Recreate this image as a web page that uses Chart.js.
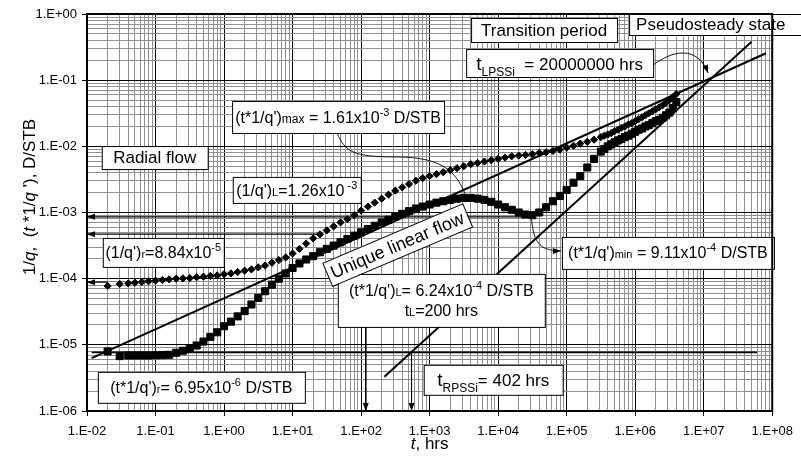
<!DOCTYPE html>
<html>
<head>
<meta charset="utf-8">
<script src="https://cdn.jsdelivr.net/npm/chart.js@4.4.0/dist/chart.umd.min.js"></script>
<style>
  html, body { margin: 0; padding: 0; background: #fff; }
  #wrap { width: 801px; height: 461px; }
</style>
</head>
<body>
<div id="wrap"><canvas id="chart" width="801" height="461"></canvas></div>
<script>
const FONT = "'Liberation Sans', Arial, Helvetica, sans-serif";

// --- DATA ---
// production time, hrs
const timeHrs = [
  0.02, 0.03,
  0.04, 0.05, 0.063, 0.079,
  0.1, 0.126, 0.158, 0.2, 0.251, 0.316, 0.398, 0.501, 0.631, 0.794,
  1, 1.26, 1.58, 2, 2.51, 3.16, 3.98, 5.01, 6.31, 7.94,
  10, 12.6, 15.8, 20, 25.1, 31.6, 39.8, 50.1, 63.1, 79.4,
  100, 126, 158, 200, 251, 316, 398, 501, 631, 794,
  1000, 1260, 1580, 2000, 2510, 3160, 3980, 5010, 6310, 7940,
  1e4, 1.26e4, 1.58e4, 2e4, 2.51e4, 3.16e4, 3.98e4, 5.01e4, 6.31e4, 7.94e4,
  1e5, 1.26e5, 1.58e5, 2e5, 2.51e5, 3.16e5, 3.55e5, 3.98e5, 4.47e5, 5.01e5, 5.62e5, 6.31e5, 7.08e5, 7.94e5, 8.91e5,
  1e6, 1.12e6, 1.26e6, 1.41e6, 1.58e6, 1.78e6, 2e6, 2.24e6, 2.51e6, 2.82e6, 3.16e6, 3.55e6, 3.98e6
];
// 1/q, D/STB (diamonds)
const invRate = [
  7.76e-5, 8.32e-5,
  8.51e-5, 8.71e-5, 8.91e-5, 9.12e-5,
  9.33e-5, 9.55e-5, 9.77e-5, 1.00e-4, 1.01e-4, 1.02e-4, 1.05e-4, 1.07e-4, 1.10e-4, 1.12e-4,
  1.17e-4, 1.20e-4, 1.26e-4, 1.32e-4, 1.38e-4, 1.48e-4, 1.58e-4, 1.74e-4, 1.91e-4, 2.09e-4,
  2.40e-4, 2.82e-4, 3.39e-4, 4.07e-4, 4.68e-4, 5.37e-4, 6.17e-4, 7.08e-4, 7.94e-4, 9.12e-4,
  1.07e-3, 1.23e-3, 1.41e-3, 1.62e-3, 1.86e-3, 2.14e-3, 2.40e-3, 2.69e-3, 3.02e-3, 3.31e-3,
  3.55e-3, 3.80e-3, 4.07e-3, 4.37e-3, 4.68e-3, 5.01e-3, 5.37e-3, 5.62e-3, 5.89e-3, 6.17e-3,
  6.46e-3, 6.76e-3, 7.08e-3, 7.24e-3, 7.41e-3, 7.59e-3, 7.94e-3, 8.13e-3, 8.51e-3, 8.91e-3,
  9.55e-3, 1.02e-2, 1.10e-2, 1.17e-2, 1.26e-2, 1.38e-2, 1.45e-2, 1.51e-2, 1.58e-2, 1.70e-2, 1.78e-2, 1.91e-2, 2.00e-2, 2.14e-2, 2.24e-2,
  2.40e-2, 2.57e-2, 2.75e-2, 2.95e-2, 3.16e-2, 3.39e-2, 3.63e-2, 3.89e-2, 4.17e-2, 4.57e-2, 5.01e-2, 5.50e-2, 6.17e-2
];
// t*(1/q)', D/STB (squares)
const derivRate = [
  7.94e-6, 6.76e-6,
  6.90e-6, 6.90e-6, 6.90e-6, 6.90e-6,
  6.95e-6, 7.00e-6, 7.08e-6, 7.59e-6, 8.13e-6, 8.91e-6, 9.77e-6, 1.12e-5, 1.32e-5, 1.55e-5,
  1.91e-5, 2.24e-5, 2.69e-5, 3.24e-5, 4.07e-5, 5.13e-5, 6.46e-5, 8.13e-5, 1.00e-4, 1.20e-4,
  1.45e-4, 1.70e-4, 1.95e-4, 2.19e-4, 2.51e-4, 2.82e-4, 3.16e-4, 3.55e-4, 3.98e-4, 4.47e-4,
  5.01e-4, 5.62e-4, 6.31e-4, 7.08e-4, 7.76e-4, 8.71e-4, 9.55e-4, 1.05e-3, 1.15e-3, 1.23e-3,
  1.32e-3, 1.41e-3, 1.48e-3, 1.55e-3, 1.62e-3, 1.66e-3, 1.66e-3, 1.62e-3, 1.55e-3, 1.45e-3,
  1.32e-3, 1.20e-3, 1.10e-3, 1.00e-3, 9.33e-4, 9.12e-4, 1.00e-3, 1.20e-3, 1.48e-3, 1.78e-3,
  2.19e-3, 2.82e-3, 3.55e-3, 4.79e-3, 6.46e-3, 8.32e-3, 9.12e-3, 1.00e-2, 1.07e-2, 1.15e-2, 1.23e-2, 1.29e-2, 1.38e-2, 1.45e-2, 1.55e-2,
  1.66e-2, 1.78e-2, 1.86e-2, 2.00e-2, 2.09e-2, 2.24e-2, 2.40e-2, 2.51e-2, 2.69e-2, 2.95e-2, 3.24e-2, 3.80e-2, 4.68e-2
];

const xTickLabels = ['1.E-02', '1.E-01', '1.E+00', '1.E+01', '1.E+02', '1.E+03', '1.E+04', '1.E+05', '1.E+06', '1.E+07', '1.E+08'];
const yTickLabels = ['1.E-06', '1.E-05', '1.E-04', '1.E-03', '1.E-02', '1.E-01', '1.E+00'];

// straight lines drawn on the plot (end points)
const linearFitT = [0.0117, 8.1e7];
const linearFitV = [6.3e-6, 0.255];
const pssFitT = [219, 5.0e7];
const pssFitV = [3.3e-6, 0.382];
const radialLevelT = [0.0117, 6.0e7];
const radialLevelV = [7.7e-6, 7.7e-6];

// arrows to the axes
const levelMarks = [8.6e-4, 4.7e-4, 8.84e-5];
const levelMarkEnds = [3.0e4, 25, 0.02];
const timeMarks = [117, 545];
const timeMarkFrom = [1.87e-5, 7.7e-6];

// --- HELPERS ---
const isDecade = v => Math.abs(Math.log10(v) - Math.round(Math.log10(v))) < 1e-6;
const logTicks = (lo, hi) => {
  const out = [];
  for (let e = lo; e < hi; e++) {
    for (let m = 1; m <= 9; m++) out.push(m * Math.pow(10, e));
  }
  out.push(Math.pow(10, hi));
  return out;
};
const pts = (ts, vs) => ts.map((t, i) => ({ x: t, y: vs[i] }));
const lineDs = (data, width, extra) => Object.assign({
  data, showLine: true, borderColor: '#000', borderWidth: width,
  pointRadius: 0, fill: false, tension: 0
}, extra || {});

// --- ANNOTATIONS (anchored in data space: t, value of box top-left) ---
const notes = [
  { t: 0.0164, v: 1.01e-2, w: 106, h: 23, lines: [[['Radial flow', 17]]] },
  { t: 1.31, v: 4.85e-2, w: 212, h: 32, lines: [[["(t*1/q')", 16], ['max', 12], [' = 1.61x10', 16], ['-3', 11, -7], [' D/STB', 16]]] },
  { t: 1.34, v: 3.45e-3, w: 128, h: 26, lines: [[["(1/q')", 16], ['L', 11], ['=1.26x10', 16], [' -3', 11, -7]]] },
  { t: 0.017, v: 4.13e-4, w: 121, h: 29, lines: [[["(1/q')", 16], ['r', 11], ['=8.84x10', 16], ['-5', 11, -7]]] },
  { t: 0.0144, v: 3.91e-6, w: 207, h: 31, lines: [[["(t*1/q')", 16], ['r', 11], ['= 6.95x10', 16], ['-6', 11, -7], [' D/STB', 16]]] },
  { t: 45.7, v: 1.18e-4, w: 207, h: 53, lines: [
      [["(t*1/q')", 16], ['L', 11], ['= 6.24x10', 16], ['-4', 11, -7], [' D/STB', 16]],
      [['t', 16], ['L', 11], ['=200 hrs', 16]]] },
  { t: 8.53e4, v: 4.28e-4, w: 212, h: 32, lines: [[["(t*1/q')", 16], ['min', 11], [' = 9.11x10', 16], ['-4', 11, -7], [' D/STB', 16]]] },
  { t: 820, v: 4.99e-6, w: 139, h: 30, lines: [[['t', 19], ['RPSSi', 12, 6], ['= 402 hrs', 17]]] },
  { t: 4030, v: 0.87, w: 146, h: 24, lines: [[['Transition period', 17]]] },
  { t: 8.15e5, v: 1.0, w: 175, h: 21, left: true, lines: [[['Pseudosteady state', 17]]] },
  { t: 3410, v: 0.296, w: 187, h: 28, lines: [[['t', 19], ['LPSSi', 12, 6], ['  = 20000000 hrs', 17]]] },
  { t: 335, v: 3.24e-4, w: 152, h: 25, angle: -23, centered: true, lines: [[['Unique linear flow', 18]]] }
];

// thin curved leaders: start, control 1, control 2, end (t, value)
const leaders = [
  { p: [[44.3, 1.59e-2], [59.6, 8.23e-3], [75.2, 6.92e-3], [324, 6.92e-3]] },
  { p: [[324, 6.92e-3], [1815, 6.92e-3], [2530, 3.57e-3], [3300, 1.91e-3]] },
  { p: [[3.05e4, 8.59e-4], [3.26e4, 3.86e-4], [3.72e4, 2.63e-4], [8.24e4, 2.63e-4]], arrow: true },
  { p: [[1.75e6, 0.164], [3.51e6, 0.286], [8.04e6, 0.340], [1.16e7, 0.128]], arrow: true }
];

function arrowHead(ctx, x, y, ang, len, half) {
  ctx.save();
  ctx.translate(x, y);
  ctx.rotate(ang);
  ctx.beginPath();
  ctx.moveTo(0, 0);
  ctx.lineTo(-len, -half);
  ctx.lineTo(-len, half);
  ctx.closePath();
  ctx.fillStyle = '#000';
  ctx.fill();
  ctx.restore();
}

function partFont(p, italic) {
  return (italic ? 'italic ' : '') + p[1] + 'px ' + FONT;
}

function drawRich(ctx, parts, x, y, align) {
  let w = 0;
  parts.forEach(p => { ctx.font = partFont(p, p[3]); w += ctx.measureText(p[0]).width; });
  let cx = align === 'center' ? x - w / 2 : x;
  parts.forEach(p => {
    ctx.font = partFont(p, p[3]);
    ctx.fillText(p[0], cx, y + (p[2] || 0));
    cx += ctx.measureText(p[0]).width;
  });
  return w;
}

const annotationPlugin = {
  id: 'notes',
  afterDatasetsDraw(chart) {
    const { ctx, chartArea: a } = chart;
    const xs = chart.scales.x, ys = chart.scales.y;
    const P = (t, v) => [xs.getPixelForValue(t), ys.getPixelForValue(v)];

    ctx.save();
    // arrowheads on the axis marker lines
    chart.data.datasets.forEach((ds, i) => {
      if (!ds.arrow) return;
      const el = chart.getDatasetMeta(i).data;
      const a0 = ds.arrow === 'start' ? el[1] : el[0];
      const a1 = ds.arrow === 'start' ? el[0] : el[1];
      arrowHead(ctx, a1.x, a1.y, Math.atan2(a1.y - a0.y, a1.x - a0.x), 8, 3);
    });

    // leaders
    ctx.strokeStyle = '#000';
    ctx.lineWidth = 0.9;
    leaders.forEach(l => {
      const q = l.p.map(d => P(d[0], d[1]));
      ctx.beginPath();
      ctx.moveTo(q[0][0], q[0][1]);
      ctx.bezierCurveTo(q[1][0], q[1][1], q[2][0], q[2][1], q[3][0], q[3][1]);
      ctx.stroke();
      if (l.arrow) {
        arrowHead(ctx, q[3][0], q[3][1], Math.atan2(q[3][1] - q[2][1], q[3][0] - q[2][0]), 8, 3);
      }
    });

    // boxes
    ctx.textBaseline = 'alphabetic';
    notes.forEach(n => {
      const [px, py] = P(n.t, n.v);
      ctx.save();
      if (n.centered) {
        ctx.translate(px, py);
        ctx.rotate((n.angle || 0) * Math.PI / 180);
        ctx.translate(-n.w / 2, -n.h / 2);
      } else {
        ctx.translate(px, py);
      }
      ctx.fillStyle = '#fff';
      ctx.fillRect(0, 0, n.w, n.h);
      ctx.strokeStyle = '#000';
      ctx.lineWidth = 1;
      ctx.strokeRect(0.5, 0.5, n.w, n.h);
      ctx.fillStyle = '#000';
      const lh = 20;
      const main = Math.max(...n.lines[0].map(p => p[1]));
      let by = n.h / 2 - (n.lines.length - 1) * lh / 2 + main * 0.35;
      n.lines.forEach(parts => {
        if (n.left) drawRich(ctx, parts, 7, by, 'left');
        else drawRich(ctx, parts, n.w / 2, by, 'center');
        by += lh;
      });
      ctx.restore();
    });

    // plot frame
    ctx.strokeStyle = '#000';
    ctx.lineWidth = 2;
    ctx.strokeRect(a.left, a.top, a.right - a.left, a.bottom - a.top);

    // axis titles
    ctx.fillStyle = '#000';
    ctx.textBaseline = 'middle';
    drawRich(ctx, [['t', 17, 0, true], [', hrs', 17]], (a.left + a.right) / 2, 444, 'center');
    ctx.save();
    ctx.translate(30, 197);
    ctx.rotate(-Math.PI / 2);
    drawRich(ctx, [['1/', 17], ['q', 17, 0, true], [',  (', 17], ['t', 17, 0, true], [' *1/', 17],
                   ['q', 17, 0, true], [" '), D/STB", 17]], 0, 0, 'center');
    ctx.restore();
    ctx.restore();
  }
};

// --- CHART ---
Chart.defaults.font.family = FONT;
Chart.defaults.color = '#000';

const gridOpts = {
  color: c => (c.tick && isDecade(c.tick.value)) ? '#000' : '#8f8f8f',
  tickColor: c => (c.tick && isDecade(c.tick.value)) ? '#000' : 'rgba(0,0,0,0)',
  lineWidth: 1,
  drawTicks: true,
  tickLength: 5
};

const datasets = [
  { data: pts(timeHrs, invRate), pointStyle: 'rectRot', pointRadius: 3.6, pointBorderWidth: 1,
    backgroundColor: '#000', borderColor: '#000', showLine: false },
  { data: pts(timeHrs, derivRate), pointStyle: 'rect', pointRadius: 5.0, pointBorderWidth: 1,
    backgroundColor: '#000', borderColor: '#000', showLine: false },
  lineDs(pts(linearFitT, linearFitV), 2),
  lineDs(pts(pssFitT, pssFitV), 2),
  lineDs(pts(radialLevelT, radialLevelV), 1.8),
  ...levelMarks.map((v, i) => lineDs([{ x: 0.01, y: v }, { x: levelMarkEnds[i], y: v }], 1.3, { arrow: 'start' })),
  ...timeMarks.map((t, i) => lineDs([{ x: t, y: timeMarkFrom[i] }, { x: t, y: 1e-6 }], 1, { arrow: 'end' }))
];

new Chart(document.getElementById('chart'), {
  type: 'scatter',
  data: { datasets },
  options: {
    responsive: false,
    animation: false,
    layout: { padding: { top: 14, right: 20, left: 0, bottom: 0 } },
    plugins: { legend: { display: false }, tooltip: { enabled: false } },
    scales: {
      x: {
        type: 'logarithmic', min: 0.01, max: 1e8,
        afterBuildTicks: axis => { axis.ticks = logTicks(-2, 8).map(v => ({ value: v })); },
        afterFit: axis => { axis.height = 50; },
        grid: gridOpts,
        border: { color: '#000', width: 2 },
        ticks: {
          autoSkip: false, maxRotation: 0, minRotation: 0, padding: 8,
          font: { size: 13 }, color: '#000',
          callback: v => isDecade(v) ? xTickLabels[Math.round(Math.log10(v)) + 2] : ''
        }
      },
      y: {
        type: 'logarithmic', min: 1e-6, max: 1,
        afterBuildTicks: axis => { axis.ticks = logTicks(-6, 0).map(v => ({ value: v })); },
        afterFit: axis => { axis.width = 87; },
        grid: gridOpts,
        border: { color: '#000', width: 2 },
        ticks: {
          autoSkip: false, padding: 5,
          font: { size: 13 }, color: '#000',
          callback: v => isDecade(v) ? yTickLabels[Math.round(Math.log10(v)) + 6] : ''
        }
      }
    }
  },
  plugins: [annotationPlugin]
});
</script>
</body>
</html>
